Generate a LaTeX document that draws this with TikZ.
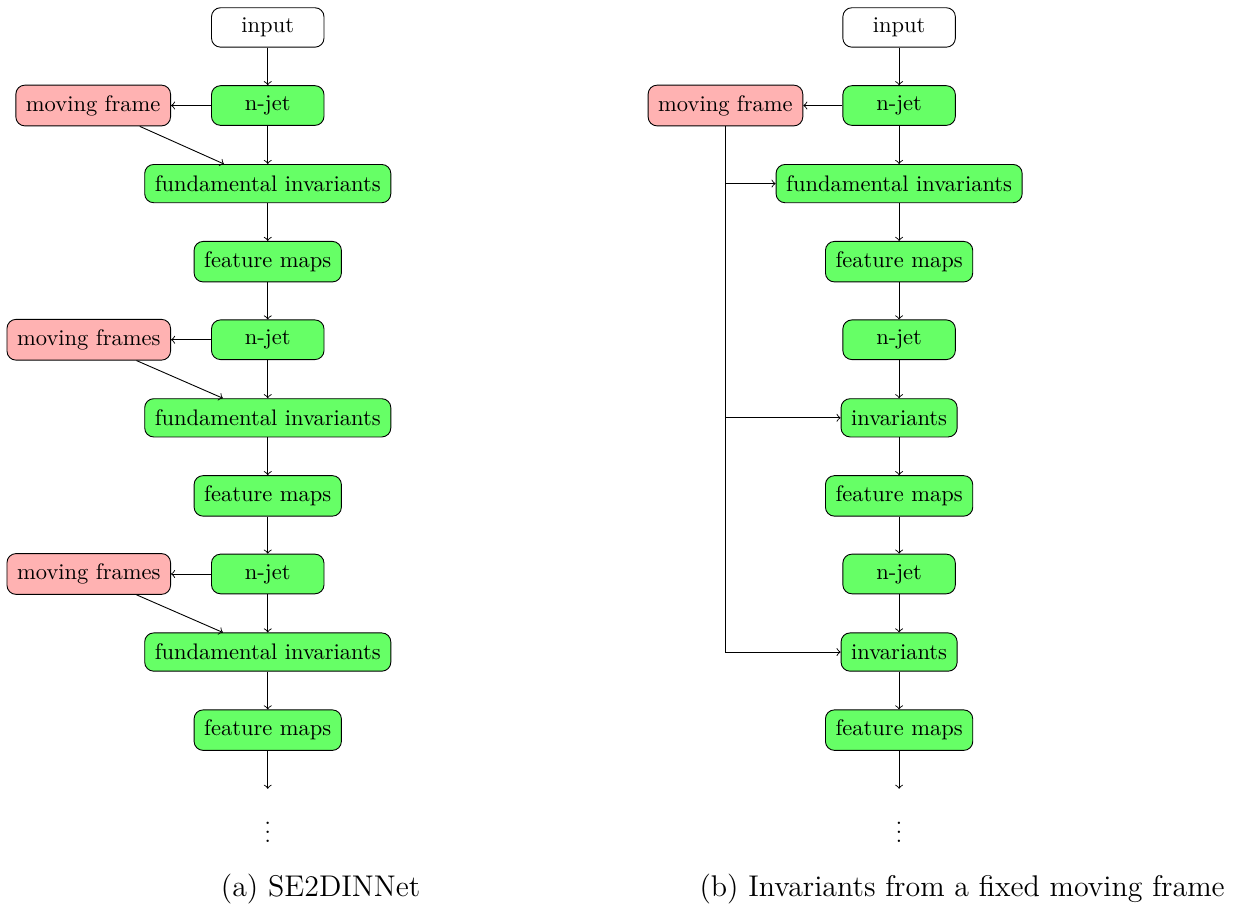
\documentclass[tikz,border=0pt]{standalone}
\usetikzlibrary{positioning}

\begin{document}
\begin{tikzpicture}[node distance=34.7pt, on grid, >=to,
    box/.style={draw, rounded corners, minimum width=50pt, minimum height=17pt, inner sep=4.5pt},
    jetbox/.style={box, fill=green!60},
    framebox/.style={box, fill=red!30},
    caption/.style={anchor=base, font=\fontsize{13.3}{16}\selectfont}]

    \useasboundingbox (0,0) rectangle (548pt,-403.6pt);

    % (a) SE2DINNET
    \node[box] (ina) at (119pt,-12.2pt) {input};
    \node[jetbox] (nja1) [below=of ina] {n-jet};
    \node[jetbox] (fia1) [below=of nja1] {fundamental invariants};
    \node[jetbox] (fma1) [below=of fia1] {feature maps};
    \node[jetbox] (nja2) [below=of fma1] {n-jet};
    \node[jetbox] (fia2) [below=of nja2] {fundamental invariants};
    \node[jetbox] (fma2) [below=of fia2] {feature maps};
    \node[jetbox] (nja3) [below=of fma2] {n-jet};
    \node[jetbox] (fia3) [below=of nja3] {fundamental invariants};
    \node[jetbox] (fma3) [below=of fia3] {feature maps};
    \node[inner ysep=8.5pt] (dotsa) [below=42.3pt of fma3] {$\vdots$};

    % MOVING FRAMES
    \node[framebox, on grid=false] (mfa1) [left=17.8pt of nja1] {moving frame};
    \node[framebox, on grid=false] (mfa2) [left=17.8pt of nja2] {moving frames};
    \node[framebox, on grid=false] (mfa3) [left=17.8pt of nja3] {moving frames};

    % TRANSITIONS
    \path[->]
        (ina) edge (nja1)
        (nja1) edge (fia1)
        (fia1) edge (fma1)
        (fma1) edge (nja2)
        (nja2) edge (fia2)
        (fia2) edge (fma2)
        (fma2) edge (nja3)
        (nja3) edge (fia3)
        (fia3) edge (fma3)
        (fma3) edge (dotsa)
        (nja1) edge (mfa1)
        (nja2) edge (mfa2)
        (nja3) edge (mfa3)
        (mfa1) edge (fia1)
        (mfa2) edge (fia2)
        (mfa3) edge (fia3);

    % (b) FIXED MOVING FRAME
    \node[box] (inb) at (399.6pt,-12.2pt) {input};
    \node[jetbox] (njb1) [below=of inb] {n-jet};
    \node[jetbox] (fib1) [below=of njb1] {fundamental invariants};
    \node[jetbox] (fmb1) [below=of fib1] {feature maps};
    \node[jetbox] (njb2) [below=of fmb1] {n-jet};
    \node[jetbox] (invb2) [below=of njb2] {invariants};
    \node[jetbox] (fmb2) [below=of invb2] {feature maps};
    \node[jetbox] (njb3) [below=of fmb2] {n-jet};
    \node[jetbox] (invb3) [below=of njb3] {invariants};
    \node[jetbox] (fmb3) [below=of invb3] {feature maps};
    \node[inner ysep=8.5pt] (dotsb) [below=42.3pt of fmb3] {$\vdots$};
    \node[framebox, on grid=false] (mfb) [left=17.4pt of njb1] {moving frame};

    \path[->]
        (inb) edge (njb1)
        (njb1) edge (fib1)
        (fib1) edge (fmb1)
        (fmb1) edge (njb2)
        (njb2) edge (invb2)
        (invb2) edge (fmb2)
        (fmb2) edge (njb3)
        (njb3) edge (invb3)
        (invb3) edge (fmb3)
        (fmb3) edge (dotsb)
        (njb1) edge (mfb);
    \draw[->] (mfb.south) |- (fib1);
    \draw[->] (mfb.south) |- (invb2);
    \draw[->] (mfb.south) |- (invb3);

    % CAPTIONS
    \node[caption] (capa) at (142.5pt,-398.5pt) {(a) SE2DINNet};
    \node[caption] (capb) at (427.6pt,-398.5pt) {(b) Invariants from a fixed moving frame};

\end{tikzpicture}
\end{document}
